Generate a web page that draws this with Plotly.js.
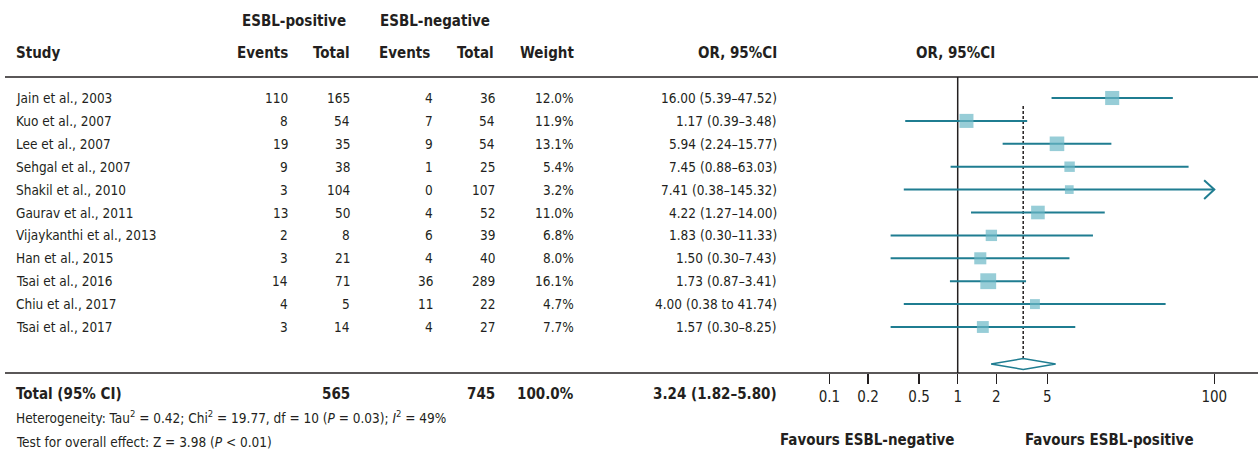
<!DOCTYPE html>
<html><head><meta charset="utf-8">
<script src="https://cdn.plot.ly/plotly-3.0.1.min.js"></script>
<style>html,body{margin:0;padding:0;background:#fff}#chart{width:1258px;height:452px}</style>
</head><body><div id="chart"></div>
<script>
// ---- data ----
const studies = ["Jain et al., 2003","Kuo et al., 2007","Lee et al., 2007","Sehgal et al., 2007","Shakil et al., 2010","Gaurav et al., 2011","Vijaykanthi et al., 2013","Han et al., 2015","Tsai et al., 2016","Chiu et al., 2017","Tsai et al., 2017"];
const posEvents = [110,8,19,9,3,13,2,3,14,4,3];
const posTotal = [165,54,35,38,104,50,8,21,71,5,14];
const negEvents = [4,7,9,1,0,4,6,4,36,11,4];
const negTotal = [36,54,54,25,107,52,39,40,289,22,27];
const weights = [12.0,11.9,13.1,5.4,3.2,11.0,6.8,8.0,16.1,4.7,7.7];
const orValues = [16.00,1.17,5.94,7.45,7.41,4.22,1.83,1.50,1.73,4.00,1.57];
const ciLower = [5.39,0.39,2.24,0.88,0.38,1.27,0.30,0.30,0.87,0.38,0.30];
const ciUpper = [47.52,3.48,15.77,63.03,145.32,14.00,11.33,7.43,3.41,41.74,8.25];
const ciSep = ["–","–","–","–","–","–","–","–","–"," to ","–"];
const pooledOR = 3.24, pooledLower = 1.82, pooledUpper = 5.80;
const totalPos = 565, totalNeg = 745, totalWeight = 100.0;
const tickVals = [0.1,0.2,0.5,1,2,5,100];
const tickText = ["0.1","0.2","0.5","1","2","5","100"];
const heterogeneityText = "Heterogeneity: Tau<sup>2</sup> = 0.42; Chi<sup>2</sup> = 19.77, df = 10 (<i>P</i> = 0.03); <i>I</i><sup>2</sup> = 49%";
const overallText = "Test for overall effect: Z = 3.98 (<i>P</i> &lt; 0.01)";

// ---- layout constants ----
const W = 1258, H = 452;
const FONT = "'DejaVu Sans Condensed','Liberation Sans Narrow',sans-serif";
const INK = "#231F20";
const TEAL_DARK = "#1F7D91", TEAL = "#6BB8C6";
const SZ = 13.5, SZB = 15;
const plotTop = 77, plotBottom = 373;
const rowY0 = 98, rowStep = 22.9;
const yTop = (plotTop - rowY0) / rowStep, yBot = (plotBottom - rowY0) / rowStep;
const diamondY = (364 - rowY0) / rowStep, diamondHalf = 0.24;
const dashTop = (106 - rowY0) / rowStep;
const clipMax = tickVals[tickVals.length - 1];
const px = v => v / W;
const py = v => (plotBottom - v) / (plotBottom - plotTop);

const rows = studies.map((_, i) => i);

// CI lines
const ciX = [], ciY = [];
rows.forEach(i => { ciX.push(ciLower[i], Math.min(ciUpper[i], clipMax), null); ciY.push(i, i, null); });
// arrows for clipped intervals
const arX = [], arY = [];
rows.forEach(i => { if (ciUpper[i] > clipMax) { arX.push(clipMax/1.2, clipMax, clipMax/1.2, null); arY.push(i-0.41, i, i+0.41, null); } });

const traces = [
  {x:[1,1], y:[yTop,yBot], mode:"lines", line:{color:INK,width:1.5}, hoverinfo:"skip"},
  {x:[pooledOR,pooledOR], y:[dashTop,diamondY], mode:"lines", line:{color:INK,width:1.5,dash:"3px,2px"}, hoverinfo:"skip"},
  {x:ciX, y:ciY, mode:"lines", line:{color:TEAL_DARK,width:2}, hoverinfo:"skip"},
  {x:arX, y:arY, mode:"lines", line:{color:TEAL_DARK,width:2}, hoverinfo:"skip"},
  {x:orValues, y:rows, mode:"markers", marker:{symbol:"square", color:TEAL, size:weights.map(w=>3.2*Math.sqrt(w)+3), line:{width:0}}},
  {x:[pooledLower,pooledOR,pooledUpper,pooledOR,pooledLower], y:[diamondY,diamondY-diamondHalf,diamondY,diamondY+diamondHalf,diamondY],
   mode:"lines", fill:"toself", fillcolor:"#ffffff", line:{color:TEAL_DARK,width:1.5}, hoverinfo:"skip"}
];

const ann = [];
function A(text, x, y, xanchor, opts) {
  ann.push(Object.assign({text:text, xref:"paper", yref:"paper", x:px(x), y:py(y), xanchor:xanchor, yanchor:"middle",
    showarrow:false, font:{family:FONT,size:SZ,color:INK}}, opts||{}));
}
const HB = {font:{family:FONT,size:SZB,color:INK}};
// headers
A("<b>ESBL-positive</b>", 294, 21, "center", HB);
A("<b>ESBL-negative</b>", 435, 21, "center", HB);
A("<b>Study</b>", 14, 53, "left", HB);
A("<b>Events</b>", 290, 53, "right", HB);
A("<b>Total</b>", 352, 53, "right", HB);
A("<b>Events</b>", 432, 53, "right", HB);
A("<b>Total</b>", 496, 53, "right", HB);
A("<b>Weight</b>", 576, 53, "right", HB);
A("<b>OR, 95%CI</b>", 779, 53, "right", HB);
A("<b>OR, 95%CI</b>", 955, 53, "center", HB);
// rows
rows.forEach(i => {
  const yy = rowY0 + rowStep * i;
  A(studies[i], 14, yy, "left");
  A(String(posEvents[i]), 290, yy, "right");
  A(String(posTotal[i]), 352, yy, "right");
  A(String(negEvents[i]), 435, yy, "right");
  A(String(negTotal[i]), 497, yy, "right");
  A(weights[i].toFixed(1) + "%", 576, yy, "right");
  A(orValues[i].toFixed(2) + " (" + ciLower[i].toFixed(2) + ciSep[i] + ciUpper[i].toFixed(2) + ")", 779, yy, "right");
});
// totals
A("<b>Total (95% CI)</b>", 14, 394, "left", HB);
A("<b>" + totalPos + "</b>", 352, 394, "right", HB);
A("<b>" + totalNeg + "</b>", 497, 394, "right", HB);
A("<b>" + totalWeight.toFixed(1) + "%</b>", 576, 394, "right", HB);
A("<b>" + pooledOR.toFixed(2) + " (" + pooledLower.toFixed(2) + "–" + pooledUpper.toFixed(2) + ")</b>", 779, 394, "right", HB);
A(heterogeneityText, 14, 417, "left");
A(overallText, 14, 442, "left");
A("<b>Favours ESBL-negative</b>", 867, 440, "center", HB);
A("<b>Favours ESBL-positive</b>", 1109, 440, "center", HB);

const layout = {
  width:W, height:H, margin:{l:0,r:0,t:plotTop,b:H-plotBottom,pad:0},
  paper_bgcolor:"#fff", plot_bgcolor:"rgba(0,0,0,0)", showlegend:false,
  font:{family:FONT,color:INK},
  xaxis:{type:"log", domain:[820/W,1], range:[(820-957.7)/128.3,(1258-957.7)/128.3],
    tickvals:tickVals, ticktext:tickText, ticks:"outside", ticklen:10, tickwidth:1.5, tickcolor:INK,
    tickfont:{family:FONT,size:15,color:INK}, showgrid:false, zeroline:false, showline:false, fixedrange:true},
  yaxis:{range:[yBot,yTop], visible:false, showgrid:false, zeroline:false, fixedrange:true},
  shapes:[
    {type:"line", xref:"paper", yref:"paper", x0:px(5), x1:1, y0:1, y1:1, line:{color:INK,width:1.5}},
    {type:"line", xref:"paper", yref:"paper", x0:px(5), x1:1, y0:0, y1:0, line:{color:INK,width:1.5}}
  ],
  annotations:ann
};
Plotly.newPlot("chart", traces, layout, {displayModeBar:false, staticPlot:true});
</script></body></html>
